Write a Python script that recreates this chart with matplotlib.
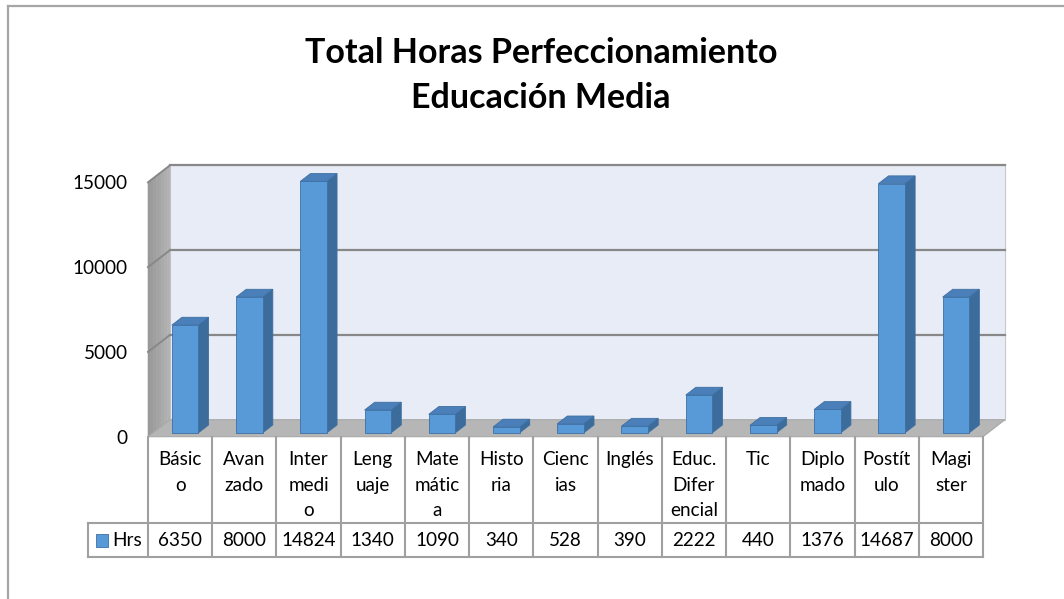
import matplotlib
matplotlib.use("Agg")
import matplotlib.pyplot as plt
from matplotlib.patches import Polygon, Rectangle
from matplotlib.lines import Line2D
from matplotlib.transforms import offset_copy, blended_transform_factory

# ---------------- data ----------------
categories = ["Básico", "Avanzado", "Intermedio", "Lenguaje", "Matemática", "Historia",
              "Ciencias", "Inglés", "Educ. Diferencial", "Tic", "Diplomado", "Postítulo", "Magister"]
category_labels = ["Básic\no", "Avan\nzado", "Inter\nmedi\no", "Leng\nuaje", "Mate\nmátic\na",
                   "Histo\nria", "Cienc\nias", "Inglés", "Educ.\nDifer\nencial", "Tic",
                   "Diplo\nmado", "Postít\nulo", "Magi\nster"]
hrs = [6350, 8000, 14824, 1340, 1090, 340, 528, 390, 2222, 440, 1376, 14687, 8000]
series_name = "Hrs"
yticks = [0, 5000, 10000, 15000]
title_lines = ["Total Horas Perfeccionamiento", "Educación Media"]

# ---------------- style ----------------
FONT = ["Lato", "DejaVu Sans"]
plt.rcParams['font.family'] = FONT
FS = 13.6
W, H = 1064, 599
DPI = 100
fig = plt.figure(figsize=(W / DPI, H / DPI), dpi=DPI)
fig.patch.set_facecolor("white")

X0, X1 = 148.0, 983.0          # front plane x extent (pixels)
YB, YT = 436.7, 182.3          # front plane y for 0 and 15000 (pixels from top)
DX, DY = 22.0, 17.0            # depth offset in pixels
n = len(hrs)
ax = fig.add_axes([X0 / W, (H - YB) / H, (X1 - X0) / W, (YB - YT) / H])
ax.set_xlim(0, n)
ax.set_ylim(0, 15000)
for s in ax.spines.values():
    s.set_visible(False)
ax.patch.set_visible(False)
ax.set_xticks([])
ax.set_yticks(yticks)
ax.set_yticklabels([str(v) for v in yticks], fontsize=FS, color="black")
ax.tick_params(axis='y', length=0, pad=14.5)


def tr(t):
    return offset_copy(ax.transData, fig=fig, x=t * DX, y=t * DY, units='dots')


def poly3(pts, **kw):
    disp = []
    for x, y, t in pts:
        px, py = ax.transData.transform((x, y))
        disp.append((px + t * DX, py + t * DY))
    inv = ax.transData.inverted()
    data = inv.transform(disp)
    p = Polygon(data, closed=True, transform=ax.transData, clip_on=False, **kw)
    ax.add_patch(p)
    return p


def line3(p0, p1, **kw):
    disp = []
    for x, y, t in (p0, p1):
        px, py = ax.transData.transform((x, y))
        disp.append((px + t * DX, py + t * DY))
    inv = ax.transData.inverted()
    d = inv.transform(disp)
    ax.add_line(Line2D(d[:, 0], d[:, 1], transform=ax.transData, clip_on=False, **kw))


ymax = 15000
# back wall
poly3([(0, 0, 1), (n, 0, 1), (n, ymax, 1), (0, ymax, 1)], facecolor="#e8ecf7",
      edgecolor="#c8c8c8", lw=0.8, zorder=1)
# side wall with a stepped grey gradient (darker at the front)
steps = 8
for k in range(steps):
    ta, tb = k / steps, (k + 1) / steps
    g = 0x98 + int((0xb2 - 0x98) * k / (steps - 1))
    col = "#%02x%02x%02x" % (g, g, g)
    poly3([(0, 0, ta), (0, 0, tb), (0, ymax, tb), (0, ymax, ta)], facecolor=col,
          edgecolor=col, lw=0.4, zorder=1)
# floor
poly3([(0, 0, 0), (n, 0, 0), (n, 0, 1), (0, 0, 1)], facecolor="#b6b6b6",
      edgecolor="#a8a8a8", lw=0.8, zorder=1.5)
# gridlines
for v in yticks[1:]:
    line3((0, v, 1), (n, v, 1), color="#888888", lw=1.6, zorder=2)
    line3((0, v, 0), (0, v, 1), color="#888888", lw=1.4, zorder=2)

# bars
bw = 0.414
t0, t1 = 0.23, 0.69
FRONT, SIDE, TOP, EDGE = "#5899d7", "#3c6c9c", "#4a7fb9", "#3d6fa2"
for i, v in enumerate(hrs):
    xl, xr = i + 0.5 - bw / 2, i + 0.5 + bw / 2
    poly3([(xr, 0, t0), (xr, 0, t1), (xr, v, t1), (xr, v, t0)], facecolor=SIDE,
          edgecolor=EDGE, lw=0.6, zorder=3)
    poly3([(xl, v, t0), (xr, v, t0), (xr, v, t1), (xl, v, t1)], facecolor=TOP,
          edgecolor=EDGE, lw=0.6, zorder=3)
ax.bar([i + 0.5 for i in range(n)], hrs, width=bw, color=FRONT, edgecolor=EDGE,
       linewidth=0.6, transform=tr(t0), clip_on=False, zorder=4)

# ---------------- data table ----------------
bt = blended_transform_factory(ax.transData, ax.transAxes)


def ya(yp):
    return (YB - yp) / (YB - YT)


def xd(xp):
    return (xp - X0) / ((X1 - X0) / n)


TC = "#a0a0a0"
ROW1_TOP, ROW_MID, ROW_BOT = 437.0, 523.0, 557.0
LEG_L = 88.0
for k in range(n + 1):
    ax.add_line(Line2D([k, k], [ya(ROW1_TOP), ya(ROW_BOT)], transform=bt, color=TC,
                       lw=1.5, clip_on=False, zorder=2))
ax.add_line(Line2D([xd(LEG_L), n], [ya(ROW_MID)] * 2, transform=bt, color=TC, lw=1.5,
                   clip_on=False))
ax.add_line(Line2D([xd(LEG_L), n], [ya(ROW_BOT)] * 2, transform=bt, color=TC, lw=1.5,
                   clip_on=False))
ax.add_line(Line2D([xd(LEG_L)] * 2, [ya(ROW_MID), ya(ROW_BOT)], transform=bt, color=TC,
                   lw=1.5, clip_on=False))

line_y = [459.5, 485.5, 511.0]
for i, lab in enumerate(category_labels):
    for j, part in enumerate(lab.split("\n")):
        ax.text(i + 0.5, ya(line_y[j]), part, transform=bt, ha='center', va='center',
                fontsize=FS, color="black", clip_on=False)
    ax.text(i + 0.5, ya(540), str(hrs[i]), transform=bt, ha='center', va='center',
            fontsize=FS, color="black", clip_on=False)

# legend key in table
sq = Rectangle((xd(96), ya(546.5)), xd(108) - xd(96), ya(534) - ya(546.5),
               transform=bt, facecolor=FRONT, edgecolor=EDGE, lw=0.6, clip_on=False)
ax.add_patch(sq)
ax.text(xd(112), ya(540), series_name, transform=bt, ha='left', va='center',
        fontsize=FS, color="black", clip_on=False)

# ---------------- title ----------------
fig.text(541 / W, 1 - 53 / H, title_lines[0], ha='center', va='center', fontsize=24.5,
         fontweight='bold', color="black")
fig.text(541 / W, 1 - 98 / H, title_lines[1], ha='center', va='center', fontsize=24.5,
         fontweight='bold', color="black")

# ---------------- chart border ----------------
fig.add_artist(Line2D([8 / W, 8 / W], [0, 1 - 5.5 / H], transform=fig.transFigure,
                      color="#a6a6a6", lw=1.6))
fig.add_artist(Line2D([8 / W, 1], [1 - 5.5 / H, 1 - 5.5 / H], transform=fig.transFigure,
                      color="#a6a6a6", lw=1.6))

fig.savefig("out.png", dpi=DPI)
